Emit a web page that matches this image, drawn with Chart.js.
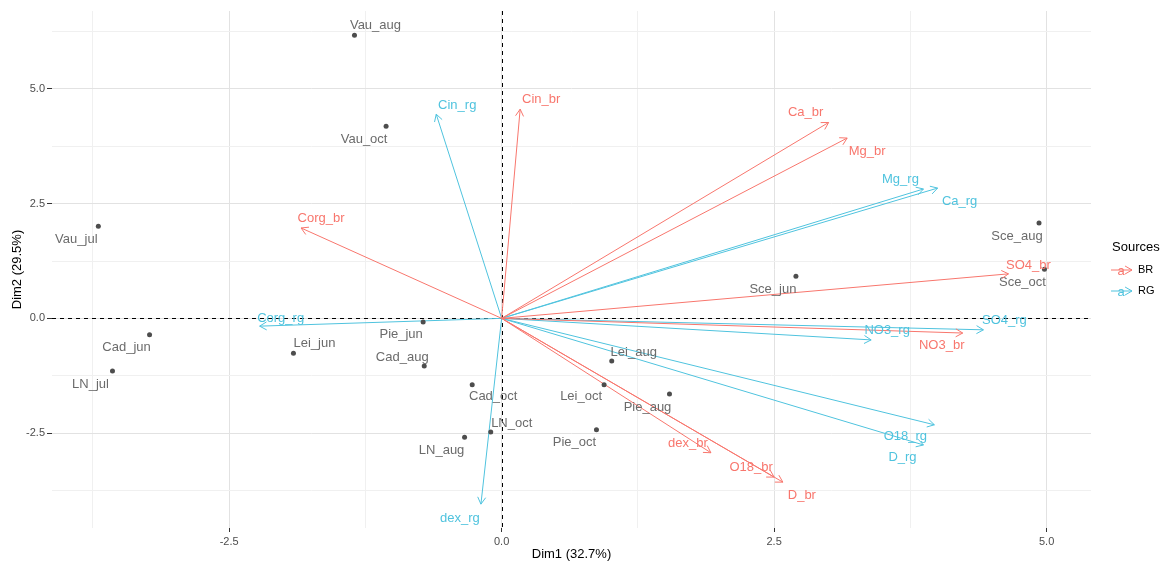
<!DOCTYPE html>
<html>
<head>
<meta charset="utf-8">
<script src="https://cdn.jsdelivr.net/npm/chart.js@4.4.0/dist/chart.umd.min.js"></script>
<style>
  body { margin: 0; background: #fff; }
  #wrap { width: 1170px; height: 562px; }
</style>
</head>
<body>
<div id="wrap"><canvas id="js--biplot"></canvas></div>
<script>
// samples (individuals)
const sampleNames = ["Vau_aug", "Vau_oct", "Vau_jul", "Cad_jun", "LN_jul", "Lei_jun", "Pie_jun", "Cad_aug", "Cad_oct",
  "LN_oct", "LN_aug", "Lei_aug", "Lei_oct", "Pie_aug", "Pie_oct", "Sce_jun", "Sce_aug", "Sce_oct"];
const sampleDim1 = [-1.35, -1.06, -3.70, -3.23, -3.57, -1.91, -0.72, -0.71, -0.27,
  -0.10, -0.34, 1.01, 0.94, 1.54, 0.87, 2.70, 4.93, 4.98];
const sampleDim2 = [6.17, 4.19, 2.01, -0.36, -1.15, -0.76, -0.08, -1.04, -1.45,
  -2.48, -2.59, -0.93, -1.45, -1.65, -2.43, 0.92, 2.08, 1.07];

// variables, source BR
const brNames = ["Cin_br", "Ca_br", "Mg_br", "Corg_br", "SO4_br", "NO3_br", "dex_br", "O18_br", "D_br"];
const brDim1 = [0.17, 3.00, 3.17, -1.84, 4.65, 4.23, 1.92, 2.50, 2.58];
const brDim2 = [4.56, 4.27, 3.93, 1.97, 0.97, -0.32, -2.93, -3.46, -3.57];

// variables, source RG
const rgNames = ["Cin_rg", "Mg_rg", "Ca_rg", "Corg_rg", "SO4_rg", "NO3_rg", "O18_rg", "D_rg", "dex_rg"];
const rgDim1 = [-0.60, 3.87, 4.00, -2.22, 4.42, 3.39, 3.97, 3.87, -0.19];
const rgDim2 = [4.45, 2.82, 2.84, -0.17, -0.25, -0.47, -2.32, -2.76, -4.05];

const sourceNames = ["BR", "RG"];
const majorTicks = [-2.5, 0, 2.5, 5];
const xLimits = [-4.125, 5.407];
const yLimits = [-4.57, 6.70];

// where each text label sits relative to its point (px)
const labelShift = {
  Vau_aug: [21, -10], Vau_oct: [-22, 13], Vau_jul: [-22, 13], Cad_jun: [-23, 13], LN_jul: [-22, 13],
  Lei_jun: [21, -10], Pie_jun: [-22, 12], Cad_aug: [-22, -9], Cad_oct: [21, 12], LN_oct: [21, -9],
  LN_aug: [-23, 13], Lei_aug: [22, -9], Lei_oct: [-23, 12], Pie_aug: [-22, 13], Pie_oct: [-22, 13],
  Sce_jun: [-23, 13], Sce_aug: [-22, 13], Sce_oct: [-22, 13],
  Cin_br: [21, -10], Ca_br: [-23, -10], Mg_br: [20, 13], Corg_br: [20, -10], SO4_br: [20, -8],
  NO3_br: [-21, 12], dex_br: [-23, -9], O18_br: [-23, -10], D_br: [19, 13],
  Cin_rg: [21, -9], Mg_rg: [-23, -10], Ca_rg: [22, 13], Corg_rg: [21, -8], SO4_rg: [21, -9],
  NO3_rg: [16, -9], O18_rg: [-29, 12], D_rg: [-21, 12], dex_rg: [-21, 14]
};

const brColor = "#F8766D";
const rgColor = "#4FC3DE";
const sampleColor = "#4D4D4D";
const sampleTextColor = "#6B6B6B";
const fontFamily = "'Liberation Sans', Arial, sans-serif";

function isMajor(v) {
  return majorTicks.some(function (t) { return Math.abs(t - v) < 1e-6; });
}

const datasets = [];
datasets.push({
  label: "samples",
  data: sampleDim1.map(function (x, i) { return { x: x, y: sampleDim2[i] }; }),
  pointRadius: 2.5,
  pointBackgroundColor: sampleColor,
  pointBorderWidth: 0,
  showLine: false
});

function addArrows(names, d1, d2, color) {
  names.forEach(function (name, i) {
    datasets.push({
      label: name,
      data: [{ x: 0, y: 0 }, { x: d1[i], y: d2[i] }],
      borderColor: color,
      borderWidth: 1,
      pointRadius: 0,
      showLine: true,
      fill: false
    });
  });
}
addArrows(brNames, brDim1, brDim2, brColor);
addArrows(rgNames, rgDim1, rgDim2, rgColor);

function arrowHead(ctx, x1, y1, x2, y2, color) {
  const a = Math.atan2(y2 - y1, x2 - x1);
  const len = 8;
  ctx.strokeStyle = color;
  ctx.lineWidth = 1;
  ctx.beginPath();
  ctx.moveTo(x2 - len * Math.cos(a - Math.PI / 6), y2 - len * Math.sin(a - Math.PI / 6));
  ctx.lineTo(x2, y2);
  ctx.lineTo(x2 - len * Math.cos(a + Math.PI / 6), y2 - len * Math.sin(a + Math.PI / 6));
  ctx.stroke();
}

const biplotExtras = {
  id: "biplotExtras",
  beforeDatasetsDraw(chart) {
    const { ctx, chartArea, scales } = chart;
    const x0 = Math.round(scales.x.getPixelForValue(0)) + 0.5;
    const y0 = Math.round(scales.y.getPixelForValue(0)) + 0.5;
    ctx.save();
    ctx.strokeStyle = "#000";
    ctx.lineWidth = 1;
    ctx.setLineDash([4, 4]);
    ctx.beginPath();
    ctx.moveTo(x0, chartArea.top);
    ctx.lineTo(x0, chartArea.bottom);
    ctx.moveTo(chartArea.left, y0);
    ctx.lineTo(chartArea.right, y0);
    ctx.stroke();
    ctx.restore();
  },
  afterDatasetsDraw(chart) {
    const { ctx, scales } = chart;
    const sx = scales.x, sy = scales.y;
    const ox = sx.getPixelForValue(0), oy = sy.getPixelForValue(0);
    ctx.save();
    ctx.font = "13px " + fontFamily;
    ctx.textAlign = "center";
    ctx.textBaseline = "middle";

    sampleNames.forEach(function (name, i) {
      const px = sx.getPixelForValue(sampleDim1[i]);
      const py = sy.getPixelForValue(sampleDim2[i]);
      const s = labelShift[name];
      ctx.fillStyle = sampleTextColor;
      ctx.fillText(name, px + s[0], py + s[1]);
    });

    function varLabels(names, d1, d2, color) {
      names.forEach(function (name, i) {
        const px = sx.getPixelForValue(d1[i]);
        const py = sy.getPixelForValue(d2[i]);
        arrowHead(ctx, ox, oy, px, py, color);
        const s = labelShift[name];
        ctx.fillStyle = color;
        ctx.fillText(name, px + s[0], py + s[1]);
      });
    }
    varLabels(brNames, brDim1, brDim2, brColor);
    varLabels(rgNames, rgDim1, rgDim2, rgColor);
    ctx.restore();
  },
  afterDraw(chart) {
    const ctx = chart.ctx;
    const colors = [brColor, rgColor];
    ctx.save();
    ctx.fillStyle = "#000";
    ctx.font = "13px " + fontFamily;
    ctx.textAlign = "left";
    ctx.textBaseline = "middle";
    ctx.fillText("Sources", 1112, 247);
    sourceNames.forEach(function (name, i) {
      const y = 270 + i * 21;
      ctx.strokeStyle = colors[i];
      ctx.lineWidth = 1;
      ctx.beginPath();
      ctx.moveTo(1111, y);
      ctx.lineTo(1132, y);
      ctx.stroke();
      arrowHead(ctx, 1111, y, 1132, y, colors[i]);
      ctx.fillStyle = colors[i];
      ctx.font = "13px " + fontFamily;
      ctx.textAlign = "center";
      ctx.fillText("a", 1121, y + 1);
      ctx.fillStyle = "#000";
      ctx.font = "11px " + fontFamily;
      ctx.textAlign = "left";
      ctx.fillText(name, 1138, y);
    });
    ctx.restore();
  }
};

function axisOptions(limits, title, isY) {
  return {
    type: "linear",
    min: limits[0],
    max: limits[1],
    border: { display: false },
    grid: {
      color: function (c) { return isMajor(c.tick.value) ? "#E2E2E2" : "#F0F0F0"; },
      lineWidth: 1,
      tickLength: isY ? 5 : 4,
      tickColor: function (c) { return isMajor(c.tick.value) ? "#333333" : "rgba(0,0,0,0)"; }
    },
    ticks: {
      stepSize: 1.25,
      includeBounds: false,
      autoSkip: false,
      maxRotation: 0,
      padding: isY ? 2 : 3,
      color: "#4D4D4D",
      font: { family: fontFamily, size: 11 },
      callback: function (v) { return isMajor(v) ? v.toFixed(1) : ""; }
    },
    title: {
      display: true,
      text: title,
      color: "#000",
      font: { family: fontFamily, size: 13 },
      padding: isY ? { top: 10, bottom: 0 } : { top: 0, bottom: 0 }
    },
    afterFit: function (scale) {
      if (isY) scale.width = 52; else scale.height = 34;
    }
  };
}

new Chart(document.getElementById("js--biplot"), {
  type: "scatter",
  data: { datasets: datasets },
  options: {
    responsive: true,
    maintainAspectRatio: false,
    animation: false,
    layout: { padding: { left: 0, right: 79, top: 11, bottom: 0 } },
    plugins: { legend: { display: false }, tooltip: { enabled: false } },
    scales: {
      x: axisOptions(xLimits, "Dim1 (32.7%)", false),
      y: axisOptions(yLimits, "Dim2 (29.5%)", true)
    }
  },
  plugins: [biplotExtras]
});
</script>
</body>
</html>
